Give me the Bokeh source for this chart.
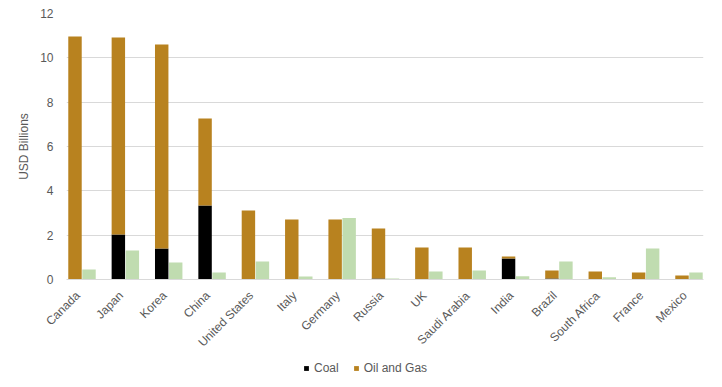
import math
from bokeh.plotting import figure
from bokeh.layouts import column
from bokeh.models import ColumnDataSource, FixedTicker, Range1d, Legend
from bokeh.embed import file_html
from bokeh.resources import INLINE

countries = ["Canada", "Japan", "Korea", "China", "United States", "Italy", "Germany",
             "Russia", "UK", "Saudi Arabia", "India", "Brazil", "South Africa", "France", "Mexico"]
coal = [0.0, 2.03, 1.40, 3.34, 0.0, 0.0, 0.0, 0.05, 0.0, 0.0, 0.95, 0.05, 0.0, 0.0, 0.0]
oil_gas = [10.96, 8.89, 9.20, 3.92, 3.11, 2.71, 2.71, 2.25, 1.44, 1.44, 0.09, 0.36, 0.36, 0.32, 0.18]
clean = [0.45, 1.31, 0.77, 0.32, 0.81, 0.14, 2.77, 0.05, 0.36, 0.41, 0.15, 0.81, 0.10, 1.40, 0.32]
y_ticks = [0, 2, 4, 6, 8, 10, 12]

COAL_C = "#000000"
OIL_C = "#B8821F"
CLEAN_C = "#C0DCB0"
FONT = "Liberation Sans"
GRAY = "#595959"

idx = list(range(len(countries)))
src = ColumnDataSource(dict(
    xs=[i - 0.166 for i in idx],
    xg=[i + 0.157 for i in idx],
    coal=coal, oil=oil_gas, clean=clean,
))

p = figure(width=714, height=358, output_backend="svg", toolbar_location=None,
           x_range=Range1d(-0.362, 14.33), y_range=Range1d(0, 12),
           min_border_left=66, min_border_right=11, min_border_top=13,
           min_border_bottom=79)
p.outline_line_color = None
p.background_fill_color = "white"

p.vbar_stack(["coal", "oil"], x="xs", width=0.31, source=src,
             color=[COAL_C, OIL_C], line_color=None)
p.vbar(x="xg", top="clean", width=0.31, source=src, color=CLEAN_C, line_color=None)

# x axis
p.xaxis.ticker = FixedTicker(ticks=[i - 0.1 for i in idx])
p.xaxis.major_label_overrides = {i - 0.1: c for i, c in zip(idx, countries)}
p.xaxis.major_label_orientation = math.pi / 4
p.xaxis.major_tick_line_color = None
p.xaxis.major_tick_out = 0
p.xaxis.major_tick_in = 0
p.xaxis.minor_tick_line_color = None
p.xaxis.axis_line_color = "#D9D9D9"
p.xaxis.major_label_text_font = FONT
p.xaxis.major_label_text_font_size = "12px"
p.xaxis.major_label_text_color = GRAY
p.xaxis.major_label_standoff = 14
p.xgrid.grid_line_color = None

# y axis
p.yaxis.ticker = FixedTicker(ticks=y_ticks)
p.yaxis.axis_line_color = None
p.yaxis.major_tick_line_color = None
p.yaxis.major_tick_out = 0
p.yaxis.major_tick_in = 0
p.yaxis.minor_tick_line_color = None
p.yaxis.major_label_text_font = FONT
p.yaxis.major_label_text_font_size = "12px"
p.yaxis.major_label_text_color = GRAY
p.yaxis.major_label_standoff = 13
p.yaxis.axis_label = "USD Billions"
p.yaxis.axis_label_text_font = FONT
p.yaxis.axis_label_text_font_size = "12px"
p.yaxis.axis_label_text_font_style = "normal"
p.yaxis.axis_label_text_color = GRAY
p.yaxis.axis_label_standoff = 6
p.ygrid.grid_line_color = "#D9D9D9"
p.ygrid.grid_line_width = 1

# legend strip below the chart (zero-width bars out of range, so only the key shows)
lg = figure(width=714, height=20, output_backend="svg", toolbar_location=None,
            x_axis_location=None, y_axis_location=None, min_border=0,
            x_range=Range1d(100, 101), y_range=Range1d(100, 101))
lg.outline_line_color = None
lg.grid.grid_line_color = None
rc = lg.vbar(x="xs", top="coal", width=0, source=src, color=COAL_C, line_color=None)
ro = lg.vbar(x="xs", top="oil", width=0, source=src, color=OIL_C, line_color=None)
legend = Legend(items=[("Coal", [rc]), ("Oil and Gas", [ro])],
                orientation="horizontal", location=(237, 3),
                glyph_width=6, glyph_height=6, label_text_font=FONT,
                label_text_font_size="12px", label_text_color=GRAY,
                label_height=14, spacing=14, label_standoff=5,
                border_line_color=None, background_fill_alpha=0,
                padding=0, margin=0)
lg.add_layout(legend, "center")

layout = column(p, lg, spacing=0)
open("out.html", "w").write(file_html(layout, INLINE))
